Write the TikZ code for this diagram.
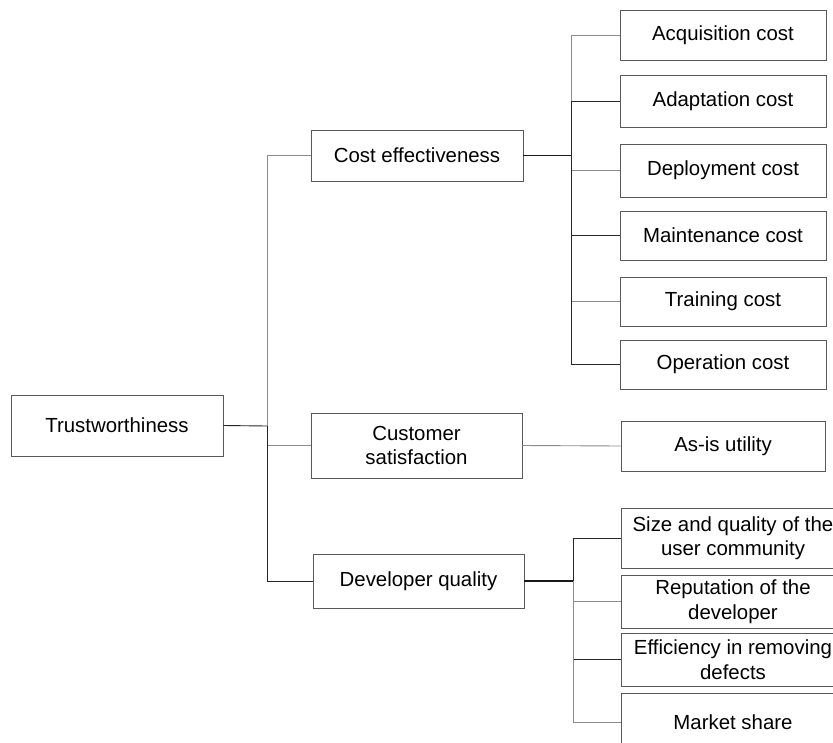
\documentclass[tikz,border=0pt]{standalone}
\usepackage{fontspec}
\setmainfont{Liberation Sans}
\begin{document}
\begin{tikzpicture}[x=1pt,y=-1pt,
  box/.style={draw=black!65,line width=0.9pt,fill=white,inner sep=0pt,align=center,
    font=\fontsize{20.4}{24.5}\selectfont},
  lite/.style={draw=black!45,line width=0.9pt},
  dark/.style={draw=black!85,line width=0.9pt},
  bold/.style={draw=black!90,line width=1.3pt}]
\useasboundingbox[fill=white] (0,0) rectangle (833,742);
\clip (0,0) rectangle (833,742);
% level 0/1
\node[box,minimum width=212pt,minimum height=61pt] (T) at (117,425.5) {Trustworthiness};
\node[box,minimum width=212pt,minimum height=51pt] (CE) at (417,155.5) {Cost effectiveness};
\node[box,minimum width=211pt,minimum height=65pt] (CS) at (416.5,445.5) {Customer\\satisfaction};
\node[box,minimum width=211pt,minimum height=54pt] (DQ) at (418.5,581) {Developer quality};
% cost children
\node[box,minimum width=206pt,minimum height=50pt] (A1) at (723,35) {Acquisition cost};
\node[box,minimum width=206pt,minimum height=52pt] (A2) at (723,101) {Adaptation cost};
\node[box,minimum width=206pt,minimum height=53pt] (A3) at (723,170.5) {Deployment cost};
\node[box,minimum width=206pt,minimum height=49pt] (A4) at (723,235.5) {Maintenance cost};
\node[box,minimum width=206pt,minimum height=49pt] (A5) at (723,301.5) {Training cost};
\node[box,minimum width=206pt,minimum height=49pt] (A6) at (723,364.5) {Operation cost};
% customer child
\node[box,minimum width=204pt,minimum height=50pt] (U) at (723,446) {As-is utility};
% developer children
\node[box,minimum width=224pt,minimum height=60pt] (D1) at (733,538) {Size and quality of the\\user community};
\node[box,minimum width=224pt,minimum height=53pt] (D2) at (733,601.5) {Reputation of the\\developer};
\node[box,minimum width=224pt,minimum height=53pt] (D3) at (733,659.5) {Efficiency in removing\\defects};
\node[box,minimum width=224pt,minimum height=59pt] (D4) at (733,722.5) {Market share};
% junctions
\coordinate (j1) at (267,426);
\coordinate (j2) at (571,155.5);
\coordinate (j3) at (573,581);
% level 1 connectors
\draw[dark] (T.east) -- (j1);
\draw[lite] (j1) |- (CE.west);
\draw[lite] (j1) |- (CS.west);
\draw[dark] (j1) |- (DQ.west);
% cost branch
\draw[bold] (CE.east) -- (j2);
\draw[lite] (j2) |- (A1.west);
\draw[dark] (j2) |- (A2.west);
\draw[lite] (j2) |- (A3.west);
\draw[dark] (j2) |- (A4.west);
\draw[lite] (j2) |- (A5.west);
\draw[dark] (j2) |- (A6.west);
% customer branch
\draw[lite] (CS.east) -- (U.west);
% developer branch
\draw[bold] (DQ.east) -- (j3);
\draw[dark] (j3) |- (D1.west);
\draw[lite] (j3) |- (D2.west);
\draw[dark] (j3) |- (D3.west);
\draw[lite] (j3) |- (D4.west);
\end{tikzpicture}
\end{document}
